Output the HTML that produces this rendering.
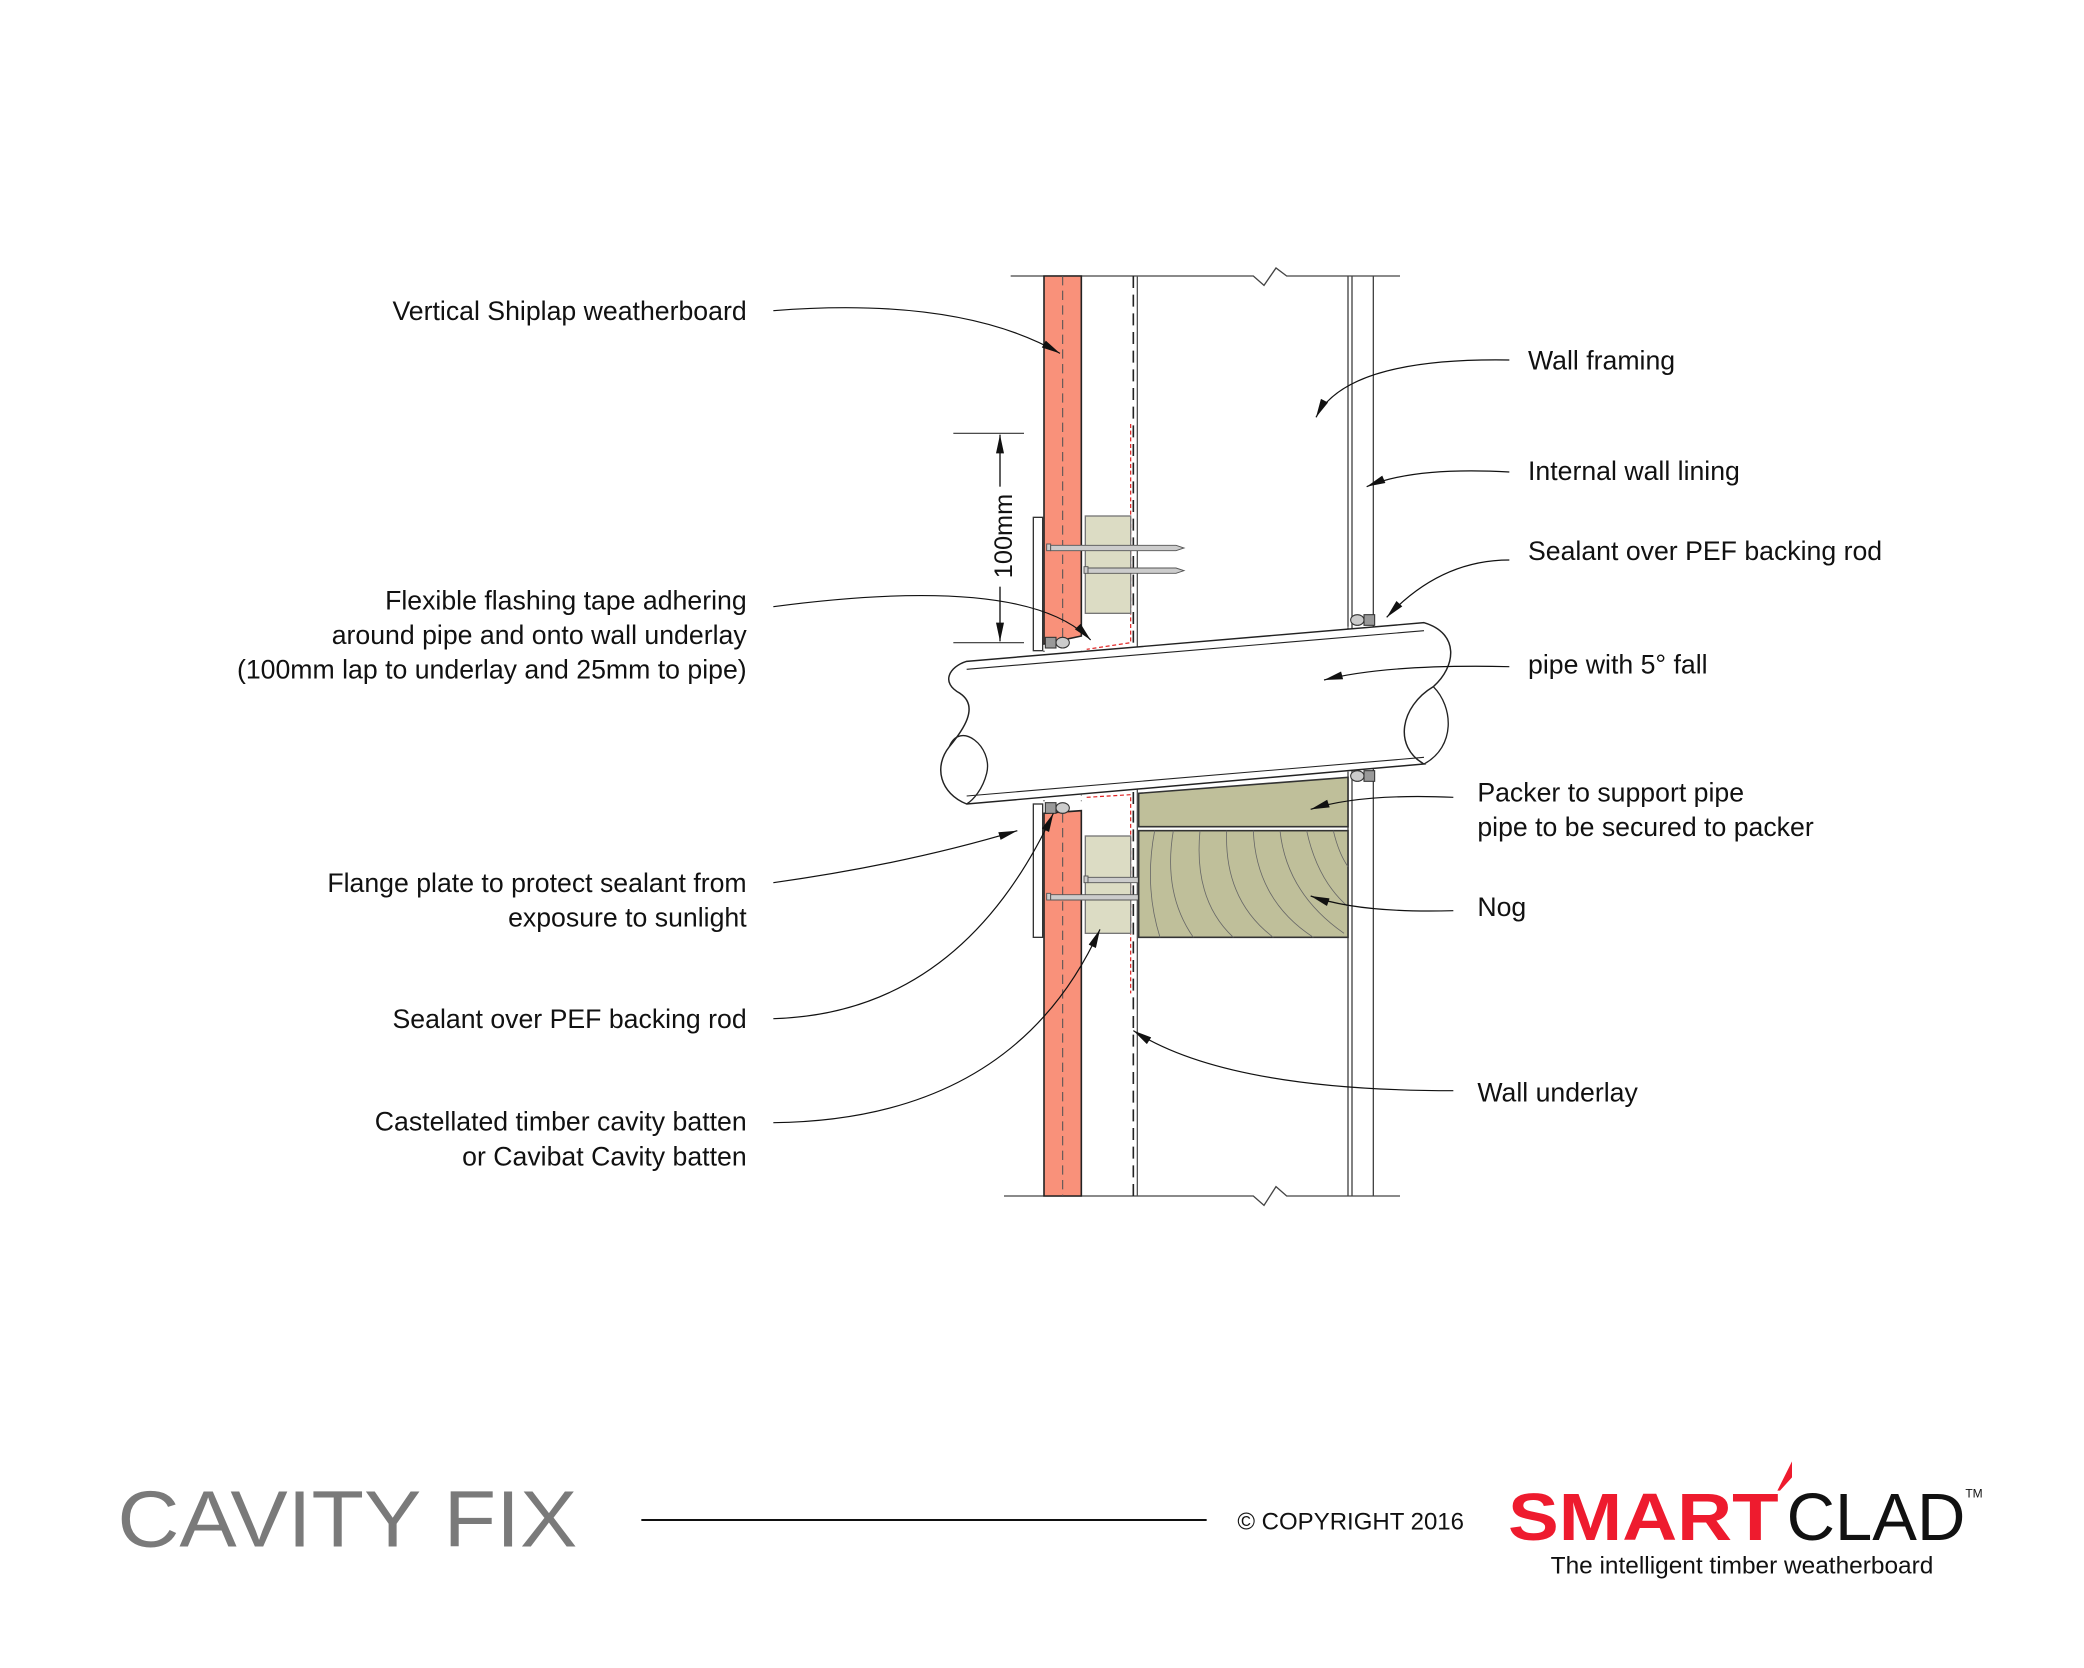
<!DOCTYPE html>
<html><head><meta charset="utf-8"><style>
html,body{margin:0;padding:0;background:#fff}
svg{display:block}
text{font-family:"Liberation Sans",sans-serif}
</style></head><body>
<svg width="2084" height="1668" viewBox="0 0 1563 1251" xmlns="http://www.w3.org/2000/svg">
<defs>
<marker id="ar" viewBox="0 0 14 6" refX="14" refY="3" markerWidth="16" markerHeight="6" markerUnits="userSpaceOnUse" orient="auto"><path d="M0,0 L14,3 L0,6 Z" fill="#111"/></marker>
</defs>
<rect width="1563" height="1251" fill="#fff"/>
<polyline points="758,207 940,207 948,214 957,201 965,207 1050,207" fill="none" stroke="#444" stroke-width="1"/>
<polyline points="753,897 940,897 948,904 957,890 965,897 1050,897" fill="none" stroke="#444" stroke-width="1"/>
<line x1="1011" y1="207" x2="1011" y2="897" stroke="#444" stroke-width="1"/>
<line x1="1014" y1="207" x2="1014" y2="897" stroke="#444" stroke-width="1"/>
<line x1="1030" y1="207" x2="1030" y2="897" stroke="#444" stroke-width="1"/>
<line x1="853" y1="207" x2="853" y2="486" stroke="#555" stroke-width="1"/>
<line x1="853" y1="592" x2="853" y2="897" stroke="#555" stroke-width="1"/>
<line x1="850" y1="207" x2="850" y2="486" stroke="#222" stroke-width="1.2" stroke-dasharray="9,5"/>
<line x1="850" y1="594" x2="850" y2="897" stroke="#222" stroke-width="1.2" stroke-dasharray="9,5"/>
<line x1="783" y1="488" x2="783" y2="603" stroke="#333" stroke-width="0.8" stroke-dasharray="1,3"/>
<line x1="811" y1="488" x2="811" y2="603" stroke="#999" stroke-width="0.8" stroke-dasharray="1,3"/>
<line x1="1011" y1="470" x2="1011" y2="580" stroke="#999" stroke-width="0.8" stroke-dasharray="1,3"/>
<line x1="1030" y1="470" x2="1030" y2="580" stroke="#333" stroke-width="0.8" stroke-dasharray="1,3"/>
<polyline points="848,318 848,482 815,487" fill="none" stroke="#e02020" stroke-width="0.9" stroke-dasharray="3,2"/>
<polyline points="815,598 848,596 848,745" fill="none" stroke="#e02020" stroke-width="0.9" stroke-dasharray="3,2"/>
<polygon points="783,207 811,207 811,477 783,483" fill="#f9917a" stroke="#222" stroke-width="1.2"/>
<polygon points="783,610 811,608 811,897 783,897" fill="#f9917a" stroke="#222" stroke-width="1.2"/>
<line x1="797" y1="207" x2="797" y2="481" stroke="#555" stroke-width="0.8" stroke-dasharray="7,4"/>
<line x1="797" y1="610" x2="797" y2="897" stroke="#555" stroke-width="0.8" stroke-dasharray="7,4"/>
<rect x="775" y="388" width="7" height="100" fill="#fff" stroke="#333" stroke-width="1"/>
<rect x="775" y="603" width="7" height="100" fill="#fff" stroke="#333" stroke-width="1"/>
<rect x="814" y="387" width="34" height="73" fill="#dcdcc4" stroke="#777" stroke-width="1"/>
<rect x="814" y="627" width="34" height="73" fill="#dcdcc4" stroke="#777" stroke-width="1"/>
<g fill="#ccc" stroke="#555" stroke-width="0.7">
<rect x="785" y="408" width="3" height="5"/><polygon points="788,409 882,409 888,411 882,413 788,413"/>
<rect x="813" y="425" width="3" height="5"/><polygon points="816,426 882,426 888,428 882,430 816,430"/>
<rect x="813" y="657" width="3" height="5"/><polygon points="816,658 882,658 888,660 882,662 816,662"/>
<rect x="785" y="670" width="3" height="5"/><polygon points="788,671 882,671 888,673 882,675 788,675"/>
</g>
<polygon points="854,595 1011,583 1011,620 854,620" fill="#bfbf9a" stroke="#333" stroke-width="1.2"/>
<rect x="854" y="623" width="157" height="80" fill="#bfbf9a" stroke="#333" stroke-width="1.2"/>
<g fill="none" stroke="#666" stroke-width="0.6">
<path d="M866,623 Q858,665 870,703"/><path d="M880,623 Q872,670 895,703"/><path d="M900,623 Q895,675 925,703"/>
<path d="M920,623 Q918,675 955,703"/><path d="M940,623 Q942,675 985,703"/><path d="M960,623 Q965,670 1008,700"/>
<path d="M980,623 Q988,660 1011,680"/><path d="M1000,623 Q1004,640 1011,650"/>
</g>
<!-- pipe -->
<path d="M725,496 L1068,467 C1095,475 1092,500 1075,515 C1050,530 1045,560 1068,573 L725,603 C705,595 700,575 712,560 C722,548 735,530 720,520 C705,512 712,500 725,496 Z" fill="#fff" stroke="#222" stroke-width="1.1"/>
<line x1="725" y1="502" x2="1068" y2="473" stroke="#222" stroke-width="0.8"/>
<line x1="725" y1="597" x2="1068" y2="568" stroke="#222" stroke-width="0.8"/>
<path d="M1075,515 C1090,530 1092,560 1068,573" fill="none" stroke="#222" stroke-width="1"/>
<path d="M712,560 C720,540 745,560 740,580 C737,592 730,600 725,603" fill="none" stroke="#222" stroke-width="1"/>
<g fill="#ccc" stroke="#333" stroke-width="0.8">
<ellipse cx="797" cy="482" rx="5" ry="4"/><rect x="784" y="478" width="8" height="8" fill="#999"/>
<ellipse cx="1018" cy="465" rx="5" ry="4"/><rect x="1023" y="461" width="8" height="8" fill="#999"/>
<ellipse cx="797" cy="606" rx="5" ry="4"/><rect x="784" y="602" width="8" height="8" fill="#999"/>
<ellipse cx="1018" cy="582" rx="5" ry="4"/><rect x="1023" y="578" width="8" height="8" fill="#999"/>
</g>
<line x1="715" y1="325" x2="768" y2="325" stroke="#333" stroke-width="0.8"/>
<line x1="715" y1="482" x2="768" y2="482" stroke="#333" stroke-width="0.8"/>
<line x1="750" y1="365" x2="750" y2="326" stroke="#111" stroke-width="1" marker-end="url(#ar)"/>
<line x1="750" y1="440" x2="750" y2="481" stroke="#111" stroke-width="1" marker-end="url(#ar)"/>
<text x="0" y="0" font-size="19" fill="#111" text-anchor="middle" transform="translate(759,402) rotate(-90)">100mm</text>
<g fill="none" stroke="#111" stroke-width="0.9" marker-end="url(#ar)">
<path d="M580,233 Q720,222 795,265"/>
<path d="M580,455 Q770,430 818,480"/>
<path d="M580,662 Q680,648 763,623"/>
<path d="M580,764 Q720,760 790,610"/>
<path d="M580,842 Q760,840 825,697"/>
<path d="M1132,270 Q1010,268 987,313"/>
<path d="M1132,354 Q1060,350 1025,365"/>
<path d="M1132,420 Q1080,420 1040,463"/>
<path d="M1132,500 Q1040,498 993,510"/>
<path d="M1090,598 Q1020,595 983,607"/>
<path d="M1090,683 Q1020,685 983,672"/>
<path d="M1090,818 Q920,818 850,773"/>
</g>
<g font-size="20" fill="#111">
<text x="560" y="240" text-anchor="end">Vertical Shiplap weatherboard</text>
<text x="560" y="457" text-anchor="end">Flexible flashing tape adhering</text>
<text x="560" y="483" text-anchor="end">around pipe and onto wall underlay</text>
<text x="560" y="509" text-anchor="end">(100mm lap to underlay and 25mm to pipe)</text>
<text x="560" y="669" text-anchor="end">Flange plate to protect sealant from</text>
<text x="560" y="695" text-anchor="end">exposure to sunlight</text>
<text x="560" y="771" text-anchor="end">Sealant over PEF backing rod</text>
<text x="560" y="848" text-anchor="end">Castellated timber cavity batten</text>
<text x="560" y="874" text-anchor="end">or Cavibat Cavity batten</text>
<text x="1146" y="277">Wall framing</text>
<text x="1146" y="360">Internal wall lining</text>
<text x="1146" y="420">Sealant over PEF backing rod</text>
<text x="1146" y="505">pipe with 5° fall</text>
<text x="1108" y="601">Packer to support pipe</text>
<text x="1108" y="627">pipe to be secured to packer</text>
<text x="1108" y="687">Nog</text>
<text x="1108" y="826">Wall underlay</text>
</g>
<text x="88" y="1160" font-size="60" fill="#7a7a7a" textLength="345" lengthAdjust="spacingAndGlyphs">CAVITY FIX</text>
<line x1="481" y1="1140" x2="905" y2="1140" stroke="#111" stroke-width="1.5"/>
<text x="928" y="1147" font-size="18" fill="#111">© COPYRIGHT 2016</text>
<text x="1131" y="1155" font-size="50" font-weight="bold" fill="#ee1b2e" textLength="203" lengthAdjust="spacingAndGlyphs">SMART</text>
<polygon points="1333,1118 1344,1096 1344,1108 1335,1118" fill="#ee1b2e"/>
<text x="1340" y="1155" font-size="50" fill="#111" textLength="134" lengthAdjust="spacingAndGlyphs">CLAD</text>
<text x="1474" y="1123" font-size="9" fill="#111">TM</text>
<text x="1163" y="1180" font-size="18" fill="#111" textLength="287" lengthAdjust="spacingAndGlyphs">The intelligent timber weatherboard</text>
</svg>
</body></html>
